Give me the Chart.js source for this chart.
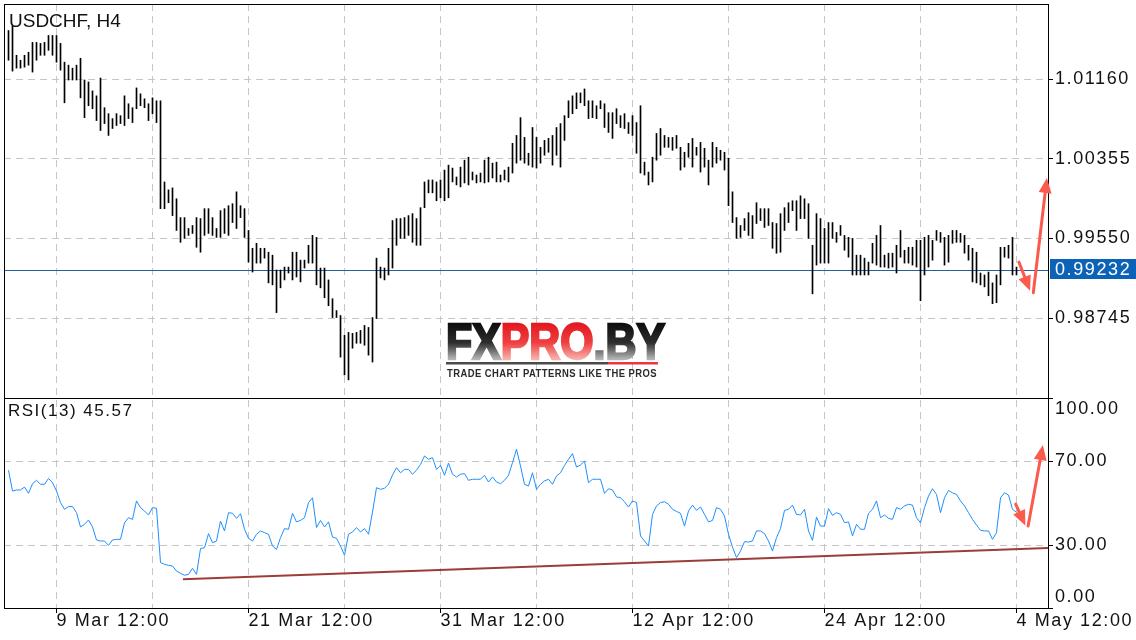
<!DOCTYPE html>
<html>
<head>
<meta charset="utf-8">
<script src="https://cdn.jsdelivr.net/npm/chart.js@4.4.1/dist/chart.umd.min.js"></script>
<style>
  html, body { margin: 0; padding: 0; background: #fff; }
  canvas { display: block; }
</style>
</head>
<body>
<canvas id="chart" width="1136" height="640"></canvas>
<script>
// USDCHF H4 bars with RSI(13) pane

const symbol = 'USDCHF, H4';
const rsiPeriod = 13;
const currentPrice = 0.99232;

// bar highs / lows, one per H4 bar
const highs = [
  1.0165, 1.0170, 1.0140, 1.0135, 1.0140, 1.0143, 1.0153, 1.0153, 1.0152, 1.0153,
  1.0160, 1.0160, 1.0160, 1.0152, 1.0133, 1.0130, 1.0127, 1.0130, 1.0137, 1.0115,
  1.0113, 1.0104, 1.0099, 1.0117, 1.0087, 1.0081, 1.0076, 1.0081, 1.0079, 1.0099,
  1.0091, 1.0087, 1.0107, 1.0101, 1.0096, 1.0091, 1.0097, 1.0094, 1.0094, 1.0012,
  1.0004, 1.0006, 0.9995, 0.9976, 0.9976, 0.9965, 0.9968, 0.9976, 0.9975, 0.9985,
  0.9985, 0.9976, 0.9965, 0.9983, 0.9985, 0.9988, 0.9990, 1.0002, 0.9988, 0.9985,
  0.9963, 0.9945, 0.9950, 0.9945, 0.9945, 0.9941, 0.9938, 0.9923, 0.9923, 0.9926,
  0.9926, 0.9941, 0.9941, 0.9933, 0.9933, 0.9948, 0.9958, 0.9956, 0.9925, 0.9925,
  0.9913, 0.9894, 0.9882, 0.9877, 0.9857, 0.9860, 0.9859, 0.9860, 0.9862, 0.9867,
  0.9865, 0.9875, 0.9935, 0.9926, 0.9925, 0.9945, 0.9973, 0.9975, 0.9975, 0.9976,
  0.9978, 0.9980, 0.9975, 0.9986, 1.0012, 1.0014, 1.0014, 1.0012, 1.0014, 1.0024,
  1.0029, 1.0026, 1.0017, 1.0027, 1.0034, 1.0037, 1.0022, 1.0019, 1.0021, 1.0034,
  1.0037, 1.0031, 1.0032, 1.0019, 1.0024, 1.0027, 1.0051, 1.0059, 1.0077, 1.0057,
  1.0041, 1.0067, 1.0057, 1.0047, 1.0054, 1.0056, 1.0059, 1.0067, 1.0071, 1.0079,
  1.0094, 1.0099, 1.0102, 1.0102, 1.0106, 1.0094, 1.0094, 1.0089, 1.0094, 1.0091,
  1.0082, 1.0082, 1.0086, 1.0079, 1.0081, 1.0072, 1.0079, 1.0072, 1.0089, 1.0032,
  1.0022, 1.0037, 1.0061, 1.0066, 1.0059, 1.0057, 1.0057, 1.0059, 1.0047, 1.0042,
  1.0051, 1.0056, 1.0047, 1.0052, 1.0046, 1.0034, 1.0052, 1.0047, 1.0044, 1.0042,
  1.0036, 1.0002, 0.9976, 0.9968, 0.9975, 0.9981, 0.9978, 0.9991, 0.9985, 0.9985,
  0.9985, 0.9971, 0.9970, 0.9980, 0.9986, 0.9991, 0.9993, 0.9993, 0.9998, 0.9995,
  0.9990, 0.9948, 0.9980, 0.9975, 0.9965, 0.9971, 0.9971, 0.9961, 0.9968, 0.9958,
  0.9956, 0.9955, 0.9938, 0.9938, 0.9935, 0.9931, 0.9950, 0.9958, 0.9968, 0.9938,
  0.9940, 0.9940, 0.9948, 0.9963, 0.9943, 0.9946, 0.9946, 0.9953, 0.9953, 0.9956,
  0.9958, 0.9953, 0.9963, 0.9961, 0.9956, 0.9958, 0.9963, 0.9963, 0.9960, 0.9958,
  0.9948, 0.9945, 0.9941, 0.9920, 0.9918, 0.9921, 0.9910, 0.9918, 0.9946, 0.9946,
  0.9948, 0.9956, 0.9926
];
const lows = [
  1.0135, 1.0124, 1.0127, 1.0127, 1.0128, 1.0130, 1.0123, 1.0135, 1.0140, 1.0140,
  1.0145, 1.0140, 1.0133, 1.0125, 1.0092, 1.0115, 1.0115, 1.0115, 1.0097, 1.0077,
  1.0089, 1.0086, 1.0074, 1.0064, 1.0071, 1.0059, 1.0066, 1.0069, 1.0071, 1.0069,
  1.0076, 1.0072, 1.0086, 1.0089, 1.0087, 1.0074, 1.0081, 1.0072, 0.9985, 0.9985,
  0.9991, 0.9978, 0.9963, 0.9951, 0.9955, 0.9958, 0.9960, 0.9946, 0.9941, 0.9958,
  0.9960, 0.9958, 0.9956, 0.9956, 0.9960, 0.9958, 0.9971, 0.9965, 0.9976, 0.9956,
  0.9931, 0.9921, 0.9930, 0.9930, 0.9935, 0.9910, 0.9908, 0.9880, 0.9905, 0.9913,
  0.9920, 0.9913, 0.9916, 0.9911, 0.9925, 0.9930, 0.9930, 0.9908, 0.9905, 0.9895,
  0.9887, 0.9875, 0.9875, 0.9835, 0.9817, 0.9812, 0.9844, 0.9849, 0.9849, 0.9847,
  0.9837, 0.9830, 0.9874, 0.9915, 0.9913, 0.9918, 0.9925, 0.9948, 0.9955, 0.9955,
  0.9958, 0.9951, 0.9948, 0.9948, 0.9986, 1.0001, 1.0001, 0.9993, 0.9996, 0.9993,
  0.9996, 1.0012, 1.0009, 1.0007, 1.0011, 1.0009, 1.0014, 1.0011, 1.0012, 1.0011,
  1.0012, 1.0016, 1.0012, 1.0012, 1.0014, 1.0012, 1.0021, 1.0031, 1.0034, 1.0031,
  1.0029, 1.0027, 1.0026, 1.0031, 1.0039, 1.0042, 1.0029, 1.0039, 1.0027, 1.0054,
  1.0077, 1.0081, 1.0086, 1.0092, 1.0089, 1.0076, 1.0077, 1.0076, 1.0086, 1.0067,
  1.0062, 1.0056, 1.0071, 1.0067, 1.0066, 1.0061, 1.0059, 1.0041, 1.0021, 1.0019,
  1.0009, 1.0012, 1.0034, 1.0039, 1.0047, 1.0047, 1.0044, 1.0046, 1.0024, 1.0027,
  1.0037, 1.0027, 1.0039, 1.0022, 1.0027, 1.0009, 1.0027, 1.0031, 1.0034, 1.0024,
  0.9988, 0.9971, 0.9955, 0.9956, 0.9963, 0.9958, 0.9955, 0.9970, 0.9973, 0.9966,
  0.9968, 0.9945, 0.9940, 0.9941, 0.9963, 0.9971, 0.9983, 0.9963, 0.9975, 0.9975,
  0.9955, 0.9899, 0.9928, 0.9930, 0.9930, 0.9930, 0.9955, 0.9951, 0.9958, 0.9943,
  0.9936, 0.9918, 0.9918, 0.9918, 0.9918, 0.9918, 0.9930, 0.9928, 0.9926, 0.9926,
  0.9925, 0.9926, 0.9920, 0.9936, 0.9930, 0.9930, 0.9928, 0.9926, 0.9892, 0.9918,
  0.9926, 0.9933, 0.9953, 0.9951, 0.9928, 0.9931, 0.9950, 0.9951, 0.9951, 0.9940,
  0.9933, 0.9911, 0.9910, 0.9908, 0.9906, 0.9897, 0.9889, 0.9890, 0.9908, 0.9936,
  0.9935, 0.9918, 0.9918
];

// RSI(13), one value per bar
const rsi = [
  65.6, 55.7, 56.2, 56.2, 57.6, 54.6, 59.2, 60.8, 58.9, 58.9,
  61.7, 59.7, 55.7, 50.2, 47.0, 48.3, 48.3, 45.4, 38.6, 39.8,
  41.9, 38.6, 32.4, 31.9, 31.9, 29.8, 32.4, 32.7, 32.7, 40.6,
  43.0, 42.2, 51.0, 47.8, 46.2, 44.3, 47.8, 47.5, 21.6, 20.8,
  20.3, 20.0, 17.6, 16.5, 15.6, 16.0, 18.9, 16.0, 28.3, 28.7,
  35.4, 31.1, 31.9, 41.4, 36.7, 45.4, 45.1, 42.7, 44.9, 37.5,
  33.2, 31.9, 35.1, 36.7, 35.9, 35.1, 29.5, 27.9, 33.5, 37.8,
  37.5, 45.1, 41.0, 41.7, 43.0, 50.2, 52.5, 38.3, 41.7, 38.6,
  41.0, 33.8, 33.2, 29.5, 25.1, 35.1, 36.2, 38.3, 36.2, 37.8,
  35.1, 45.7, 57.3, 56.5, 57.0, 58.9, 63.3, 66.8, 64.4, 66.0,
  66.0, 63.7, 65.6, 68.4, 72.4, 70.8, 71.6, 66.0, 67.9, 63.2,
  69.0, 63.7, 62.4, 63.7, 64.0, 60.8, 61.3, 61.3, 61.3, 63.2,
  60.0, 62.4, 60.0, 59.2, 60.8, 63.2, 69.2, 75.6, 67.6, 58.9,
  58.1, 64.4, 56.5, 58.9, 60.5, 61.3, 58.9, 62.9, 64.4, 67.9,
  70.8, 73.5, 67.1, 68.1, 70.0, 59.7, 61.3, 61.3, 61.3, 54.6,
  56.8, 56.2, 52.9, 52.5, 50.6, 48.1, 51.0, 50.2, 34.3, 31.9,
  29.5, 44.6, 48.6, 50.2, 50.6, 49.4, 47.0, 46.0, 45.1, 39.0,
  46.2, 49.0, 46.5, 48.1, 44.6, 41.0, 41.7, 47.8, 47.0, 43.8,
  35.1, 29.0, 24.0, 27.1, 31.6, 31.4, 31.9, 36.7, 36.7, 35.4,
  31.9, 27.1, 33.5, 37.8, 46.5, 47.0, 49.0, 44.6, 44.3, 47.0,
  36.7, 32.2, 43.3, 39.0, 39.0, 47.3, 44.1, 45.4, 44.6, 40.6,
  41.0, 34.3, 39.8, 37.5, 37.5, 45.1, 47.0, 51.0, 43.0, 44.3,
  42.7, 42.2, 47.8, 47.0, 48.6, 49.4, 49.0, 43.0, 40.6, 47.8,
  53.3, 56.8, 54.1, 45.4, 52.5, 56.0, 54.8, 54.1, 51.0, 48.6,
  45.4, 42.2, 39.5, 37.0, 36.7, 36.7, 32.7, 35.9, 52.5, 54.9,
  53.8, 47.0, 45.57
];

const priceTicks = [0.98745, 0.99550, 1.00355, 1.01160];
const rsiTicks = [0, 30, 70, 100];
const dateLabels = ['9 Mar 12:00', '21 Mar 12:00', '31 Mar 12:00', '12 Apr 12:00', '24 Apr 12:00', '4 May 12:00'];
const firstGridBar = 12;   // bar index of the first vertical grid line
const gridStepBars = 24;   // 4 days of H4 bars

// drawn annotations, in bar index / value units
const rsiTrend = [{ x: 43.6, y: 13.7 }, { x: 259.9, y: 28.6 }];
const priceArrows = [[252.6, 0.9931, 255.4, 0.9902], [256.2, 0.9900, 259.6, 1.0016]];
const rsiArrows = [[251.8, 49.5, 254.2, 39.3], [254.9, 39.0, 258.6, 77.6]];

const FONT = '"Liberation Sans", Arial, sans-serif';
const GRID = '#c6c6c6';
const DASH = [7, 5];

const gridBars = [];
for (let k = 0; k <= 10; k++) gridBars.push(firstGridBar + k * gridStepBars);

function drawArrow(ctx, x1, y1, x2, y2) {
    const a = Math.atan2(y2 - y1, x2 - x1);
    const hl = 15, hw = 6.5;
    const bx = x2 - hl * Math.cos(a), by = y2 - hl * Math.sin(a);
    ctx.beginPath();
    ctx.moveTo(x1, y1);
    ctx.lineTo(bx, by);
    ctx.stroke();
    ctx.beginPath();
    ctx.moveTo(x2, y2);
    ctx.lineTo(bx + hw * Math.sin(a), by - hw * Math.cos(a));
    ctx.lineTo(bx - hw * Math.sin(a), by + hw * Math.cos(a));
    ctx.closePath();
    ctx.fill();
}

function drawLogo(ctx) {
    ctx.save();
    ctx.letterSpacing = '0px';
    ctx.textBaseline = 'alphabetic';
    ctx.font = 'bold 50px ' + FONT;
    const parts = [['FX', false], ['PRO', true], ['.BY', false]];
    const sx = 219 / ctx.measureText('FXPRO.BY').width;
    ctx.translate(446, 359);
    ctx.scale(sx, 1);
    let x = 0;
    parts.forEach(([t, red]) => {
        const g = ctx.createLinearGradient(0, -36, 0, 0);
        if (red) {
            g.addColorStop(0, '#e3161e');
            g.addColorStop(0.55, '#ee4040');
            g.addColorStop(1, '#f8b0ac');
        } else {
            g.addColorStop(0, '#0c0c0c');
            g.addColorStop(0.55, '#2e2e2e');
            g.addColorStop(1, '#b4b4b4');
        }
        ctx.fillStyle = g;
        ctx.strokeStyle = g;
        ctx.lineWidth = 2.5;
        ctx.fillText(t, x, 0);
        ctx.strokeText(t, x, 0);
        x += ctx.measureText(t).width;
    });
    ctx.restore();

    ctx.save();
    ctx.fillStyle = '#4a4a4a';
    ctx.fillRect(446, 362, 162, 2.5);
    ctx.fillStyle = '#e8383d';
    ctx.fillRect(608, 362, 50, 2.5);
    ctx.letterSpacing = '0.5px';
    ctx.font = 'bold 11px ' + FONT;
    ctx.fillStyle = '#2b2b2b';
    ctx.textBaseline = 'alphabetic';
    ctx.fillText('TRADE CHART PATTERNS LIKE THE PROS', 447, 377, 210);
    ctx.restore();
}

const terminalPlugin = {
    id: 'terminal',
    beforeDraw(chart) {
        chart.ctx.letterSpacing = '1.6px';
    },
    beforeDatasetsDraw(chart) {
        const ctx = chart.ctx;
        const { left, right } = chart.chartArea;
        drawLogo(ctx);
        // current price line
        const yp = Math.round(chart.scales.y.getPixelForValue(currentPrice)) + 0.5;
        ctx.save();
        ctx.strokeStyle = '#23609f';
        ctx.lineWidth = 1;
        ctx.beginPath();
        ctx.moveTo(left, yp);
        ctx.lineTo(right, yp);
        ctx.stroke();
        ctx.restore();
    },
    afterDraw(chart) {
        const ctx = chart.ctx;
        const { left, right } = chart.chartArea;
        const xs = chart.scales.x, yPrice = chart.scales.y, yRsi = chart.scales.yr;

        ctx.save();
        // pane frames
        ctx.strokeStyle = '#000';
        ctx.lineWidth = 1;
        [yPrice, yRsi].forEach(s => {
            ctx.strokeRect(left + 0.5, s.top + 0.5, right - left, s.bottom - s.top);
        });

        // titles
        ctx.fillStyle = '#111';
        ctx.textBaseline = 'alphabetic';
        ctx.letterSpacing = '0px';
        ctx.font = '19px ' + FONT;
        ctx.fillText(symbol, 9, 26.5);
        ctx.letterSpacing = '1.5px';
        ctx.font = '17px ' + FONT;
        ctx.fillText('RSI(' + rsiPeriod + ') ' + rsi[rsi.length - 1].toFixed(2), 8, 415.5);

        // current price tag
        const yp = Math.round(yPrice.getPixelForValue(currentPrice));
        ctx.fillStyle = '#0b62b6';
        ctx.fillRect(right + 2, yp - 11, chart.width - right - 2, 20);
        ctx.fillStyle = '#fff';
        ctx.letterSpacing = '1.6px';
        ctx.font = '18px ' + FONT;
        ctx.textBaseline = 'middle';
        ctx.fillText(currentPrice.toFixed(5), right + 7, yp);

        // arrows
        ctx.strokeStyle = '#fb5a4c';
        ctx.fillStyle = '#fb5a4c';
        ctx.lineWidth = 3;
        ctx.lineCap = 'round';
        priceArrows.forEach(a => drawArrow(ctx,
            xs.getPixelForValue(a[0]), yPrice.getPixelForValue(a[1]),
            xs.getPixelForValue(a[2]), yPrice.getPixelForValue(a[3])));
        rsiArrows.forEach(a => drawArrow(ctx,
            xs.getPixelForValue(a[0]), yRsi.getPixelForValue(a[1]),
            xs.getPixelForValue(a[2]), yRsi.getPixelForValue(a[3])));
        ctx.restore();
    }
};

Chart.defaults.font.family = FONT;
Chart.defaults.font.size = 18;
Chart.defaults.color = '#111';

new Chart(document.getElementById('chart'), {
    type: 'bar',
    data: {
        datasets: [
            {
                label: 'USDCHF',
                data: highs.map((h, i) => ({ x: i, y: [lows[i], h] })),
                yAxisID: 'y',
                backgroundColor: '#000',
                borderWidth: 0,
                barThickness: 1
            },
            {
                type: 'line',
                label: 'RSI',
                data: rsi.map((v, i) => ({ x: i, y: v })),
                yAxisID: 'yr',
                borderColor: '#1e8fff',
                borderWidth: 1,
                pointRadius: 0,
                tension: 0
            },
            {
                type: 'line',
                label: 'trend',
                data: rsiTrend,
                yAxisID: 'yr',
                borderColor: '#9c3d38',
                borderWidth: 2,
                pointRadius: 0
            }
        ]
    },
    options: {
        responsive: false,
        animation: false,
        events: [],
        layout: { padding: { left: 4, top: 4, right: 0, bottom: 0 } },
        plugins: {
            legend: { display: false },
            tooltip: { enabled: false }
        },
        scales: {
            x: {
                type: 'linear',
                min: -1.125,
                max: 259.875,
                offset: false,
                afterBuildTicks: s => { s.ticks = gridBars.map(v => ({ value: v })); },
                ticks: {
                    autoSkip: false,
                    maxRotation: 0,
                    align: 'start',
                    padding: -3,
                    callback: (v, i) => (i % 2 === 0 ? dateLabels[i / 2] : '')
                },
                grid: {
                    offset: false,
                    color: GRID,
                    tickLength: 5,
                    tickColor: c => (c.index % 2 === 0 ? '#000' : 'rgba(0,0,0,0)')
                },
                border: { color: '#000', dash: DASH },
                afterFit: s => { s.height = 32; s.paddingLeft = 0; s.paddingRight = 0; }
            },
            y: {
                type: 'linear',
                position: 'right',
                stack: 'panes',
                stackWeight: 394,
                weight: 0,
                min: 0.97937,
                max: 1.01918,
                afterBuildTicks: s => { s.ticks = priceTicks.map(v => ({ value: v })); },
                ticks: { autoSkip: false, padding: 2, callback: v => v.toFixed(5) },
                grid: { color: GRID, tickLength: 5, tickColor: '#000' },
                border: { color: '#000', dash: DASH },
                afterFit: s => { s.width = 88; s.paddingTop = 0; s.paddingBottom = 0; }
            },
            yr: {
                type: 'linear',
                position: 'right',
                stack: 'panes',
                stackWeight: 210,
                weight: 1,
                min: 0,
                max: 100,
                afterBuildTicks: s => { s.ticks = rsiTicks.map(v => ({ value: v })); },
                ticks: {
                    autoSkip: false,
                    padding: 2,
                    callback: v => (v === 100 ? ['', '100.00'] : v === 0 ? ['0.00', ''] : v.toFixed(2))
                },
                grid: {
                    color: c => (c.tick && (c.tick.value === 30 || c.tick.value === 70) ? GRID : 'rgba(0,0,0,0)'),
                    tickLength: 5,
                    tickColor: '#000'
                },
                border: { color: '#000', dash: DASH },
                afterFit: s => { s.width = 88; s.paddingTop = 0; s.paddingBottom = 0; }
            }
        }
    },
    plugins: [terminalPlugin]
});
</script>
</body>
</html>
